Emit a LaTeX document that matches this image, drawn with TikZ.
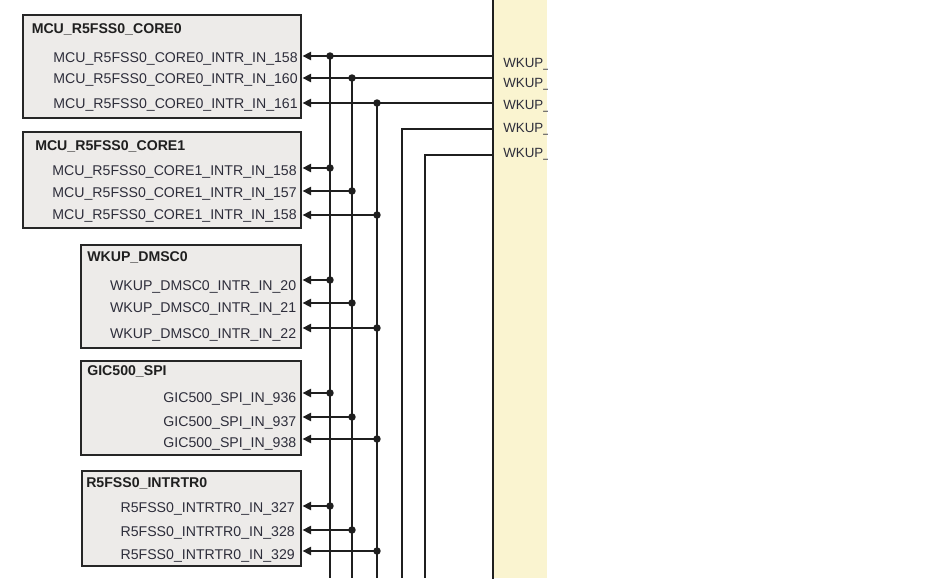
\documentclass[tikz,border=0pt]{standalone}
\usepackage{fontspec}
\setmainfont{Liberation Sans}
\usepackage{tikz}
\usetikzlibrary{arrows.meta}
\definecolor{boxgray}{RGB}{237,235,233}
\definecolor{socyellow}{RGB}{250,244,208}
\definecolor{pintext}{RGB}{45,45,58}

\begin{document}
\begin{tikzpicture}[x=0.75pt,y=0.75pt,yscale=-1,xscale=1,
  blk/.style={draw=black!85,line width=1.8pt,fill=boxgray,inner sep=0pt,anchor=north west},
  title/.style={anchor=base west,inner sep=0pt,text=black!88,font=\fontsize{10.6}{12}\selectfont\bfseries},
  pin/.style={anchor=base east,inner sep=0pt,text=pintext,font=\fontsize{10.6}{12}\selectfont},
  wkpin/.style={anchor=base west,inner sep=0pt,text=pintext,font=\fontsize{10}{12}\selectfont},
  wire/.style={draw=black!88,line width=1.7pt},
  irq/.style={wire,-{Triangle[length=6.5pt,width=6pt]}},
  jdot/.style={fill=black!88}]
\useasboundingbox (0,0) rectangle (949,578);
\coordinate (bot) at (0,578);

%Shape: WKUP block (cut at the right)
\node[fill=socyellow,inner sep=0pt,anchor=north west,minimum width=40.5pt,minimum height=433.5pt] (wkup) at (493,0) {};
\begin{scope}
\clip (wkup.north west) rectangle (wkup.south east);
% Text Node
\node[wkpin] (wk1) at (503,67.6) {WKUP\_};
\node[wkpin] (wk2) at (503,87) {WKUP\_};
\node[wkpin] (wk3) at (503,109.5) {WKUP\_};
\node[wkpin] (wk4) at (503,132.8) {WKUP\_};
\node[wkpin] (wk5) at (503,157.5) {WKUP\_};
\end{scope}
\draw[wire] (wkup.north west) -- (wkup.south west);

%Shape: Rectangle MCU_R5FSS0_CORE0
\node[blk,minimum width=208.5pt,minimum height=77.25pt] (core0) at (22,14) {};
\node[title] (core0t) at (31.5,33.4) {MCU\_R5FSS0\_CORE0};
\node[pin] (core0a) at (298,62.4) {MCU\_R5FSS0\_CORE0\_INTR\_IN\_158};
\node[pin] (core0b) at (298,83.8) {MCU\_R5FSS0\_CORE0\_INTR\_IN\_160};
\node[pin] (core0c) at (298,108.4) {MCU\_R5FSS0\_CORE0\_INTR\_IN\_161};

%Shape: Rectangle MCU_R5FSS0_CORE1
\node[blk,minimum width=208.5pt,minimum height=72pt] (core1) at (22,131) {};
\node[title] (core1t) at (35,150.8) {MCU\_R5FSS0\_CORE1};
\node[pin] (core1a) at (297,175) {MCU\_R5FSS0\_CORE1\_INTR\_IN\_158};
\node[pin] (core1b) at (297,197.5) {MCU\_R5FSS0\_CORE1\_INTR\_IN\_157};
\node[pin] (core1c) at (297,219) {MCU\_R5FSS0\_CORE1\_INTR\_IN\_158};

%Shape: Rectangle WKUP_DMSC0
\node[blk,minimum width=165pt,minimum height=77.25pt] (dmsc) at (80,244) {};
\node[title] (dmsct) at (87,261.1) {WKUP\_DMSC0};
\node[pin] (dmsca) at (296.5,290.4) {WKUP\_DMSC0\_INTR\_IN\_20};
\node[pin] (dmscb) at (296.5,312.8) {WKUP\_DMSC0\_INTR\_IN\_21};
\node[pin] (dmscc) at (296.5,338.4) {WKUP\_DMSC0\_INTR\_IN\_22};

%Shape: Rectangle GIC500_SPI
\node[blk,minimum width=165pt,minimum height=70.5pt] (gic) at (80,360) {};
\node[title] (gict) at (87,375.8) {GIC500\_SPI};
\node[pin] (gica) at (296.5,402.4) {GIC500\_SPI\_IN\_936};
\node[pin] (gicb) at (296.5,426.4) {GIC500\_SPI\_IN\_937};
\node[pin] (gicc) at (296.5,447.4) {GIC500\_SPI\_IN\_938};

%Shape: Rectangle R5FSS0_INTRTR0
\node[blk,minimum width=164.25pt,minimum height=71.25pt] (rtr) at (81,470) {};
\node[title] (rtrt) at (86,487.4) {R5FSS0\_INTRTR0};
\node[pin] (rtra) at (295,512.4) {R5FSS0\_INTRTR0\_IN\_327};
\node[pin] (rtrb) at (295,536.8) {R5FSS0\_INTRTR0\_IN\_328};
\node[pin] (rtrc) at (295,559) {R5FSS0\_INTRTR0\_IN\_329};

% sources on the WKUP block
\coordinate (src1) at (493,56);
\coordinate (src2) at (493,78);
\coordinate (src3) at (493,103);
\coordinate (src4) at (493,129);
\coordinate (src5) at (493,155);
% bends of the two free lines
\coordinate (bend4) at (402,129);
\coordinate (bend5) at (425,155);
% junctions
\coordinate (j1a) at (330,56);  \coordinate (j2a) at (352,78);  \coordinate (j3a) at (377,103);
\coordinate (j1b) at (330,168); \coordinate (j2b) at (352,191); \coordinate (j3b) at (377,215);
\coordinate (j1c) at (330,280); \coordinate (j2c) at (352,303); \coordinate (j3c) at (377,328);
\coordinate (j1d) at (330,393); \coordinate (j2d) at (352,417); \coordinate (j3d) at (377,439);
\coordinate (j1e) at (330,506); \coordinate (j2e) at (352,530); \coordinate (j3e) at (377,551);

% Lines
\draw[irq] (src1) -- (src1 -| core0.east);
\draw[irq] (src2) -- (src2 -| core0.east);
\draw[irq] (src3) -- (src3 -| core0.east);
\draw[wire] (src4) -- (bend4) -- (bend4 |- bot);
\draw[wire] (src5) -- (bend5) -- (bend5 |- bot);
\draw[wire] (j1a) -- (j1a |- bot);
\draw[wire] (j2a) -- (j2a |- bot);
\draw[wire] (j3a) -- (j3a |- bot);

\draw[irq] (j1b) -- (j1b -| core1.east);
\draw[irq] (j2b) -- (j2b -| core1.east);
\draw[irq] (j3b) -- (j3b -| core1.east);
\draw[irq] (j1c) -- (j1c -| dmsc.east);
\draw[irq] (j2c) -- (j2c -| dmsc.east);
\draw[irq] (j3c) -- (j3c -| dmsc.east);
\draw[irq] (j1d) -- (j1d -| gic.east);
\draw[irq] (j2d) -- (j2d -| gic.east);
\draw[irq] (j3d) -- (j3d -| gic.east);
\draw[irq] (j1e) -- (j1e -| rtr.east);
\draw[irq] (j2e) -- (j2e -| rtr.east);
\draw[irq] (j3e) -- (j3e -| rtr.east);

% Dots
\foreach \j in {j1a,j2a,j3a,j1b,j2b,j3b,j1c,j2c,j3c,j1d,j2d,j3d,j1e,j2e,j3e}
  \fill[jdot] (\j) circle (2.8pt);

\end{tikzpicture}
\end{document}
